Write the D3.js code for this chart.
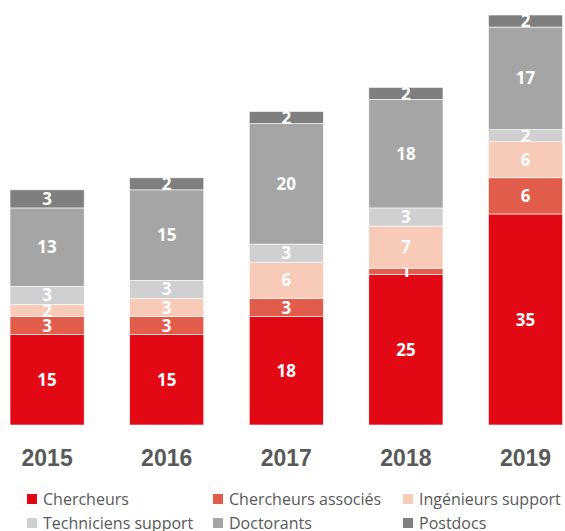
<!DOCTYPE html>
<html>
<head>
<meta charset="utf-8">
<script src="https://cdn.jsdelivr.net/npm/d3@7.9.0/dist/d3.min.js"></script>
<style>
  body { margin: 0; background: #fff; }
  svg { display: block; font-family: "Open Sans", sans-serif; }
</style>
</head>
<body>
<svg id="chart" width="565" height="531"></svg>
<script>
const years = ["2015", "2016", "2017", "2018", "2019"];
const seriesNames = ["Chercheurs", "Chercheurs associés", "Ingénieurs support", "Techniciens support", "Doctorants", "Postdocs"];
const chercheurs = [15, 15, 18, 25, 35];
const associes = [3, 3, 3, 1, 6];
const ingenieurs = [2, 3, 6, 7, 6];
const techniciens = [3, 3, 3, 3, 2];
const doctorants = [13, 15, 20, 18, 17];
const postdocs = [3, 2, 2, 2, 2];
const colors = ["#e20814", "#e15c4a", "#f8cab8", "#d0d0d2", "#a5a5a5", "#7f7f7f"];

let svg = d3.select("#chart");
let allSeries = [chercheurs, associes, ingenieurs, techniciens, doctorants, postdocs];

// build rows for d3.stack
let rows = years.map((y, i) => {
    let row = { year: y };
    seriesNames.forEach((s, j) => { row[s] = allSeries[j][i]; });
    return row;
});
let stacked = d3.stack().keys(seriesNames)(rows);

let xScale = d3.scaleBand().domain(years).range([-12.7, 585.3]).paddingInner(0.38).paddingOuter(0.19);
let yScale = d3.scaleLinear().domain([0, 68]).range([425, 15]);

let g = svg.append("g");

stacked.forEach((layer, j) => {
    let lg = g.append("g").attr("fill", colors[j]);
    lg.selectAll("rect")
      .data(layer)
      .enter().append("rect")
        .attr("x", d => xScale(d.data.year))
        .attr("y", d => yScale(d[1]))
        .attr("width", xScale.bandwidth())
        .attr("height", d => yScale(d[0]) - yScale(d[1]))
        .attr("stroke", "#fff")
        .attr("stroke-width", 0.6);

    // value labels
    g.selectAll(".lbl" + j)
      .data(layer)
      .enter().append("text")
        .attr("class", "lbl" + j)
        .attr("x", d => xScale(d.data.year) + xScale.bandwidth() / 2)
        .attr("y", d => (yScale(d[0]) + yScale(d[1])) / 2)
        .attr("dy", "0.36em")
        .attr("text-anchor", "middle")
        .attr("font-size", "17px")
        .attr("font-weight", 700)
        .attr("fill", "#fff")
        .text(d => d[1] - d[0]);
});

// year axis
let xAxis = g.append("g").attr("transform", "translate(0,425)")
    .call(d3.axisBottom(xScale).tickSize(0).tickPadding(25));
xAxis.select(".domain").remove();
xAxis.selectAll("text")
    .attr("font-family", "Liberation Sans, Arial, sans-serif")
    .attr("font-size", "23px")
    .attr("font-weight", 700)
    .attr("fill", "#595959");

// legend
let legendX = [27, 213, 403];
let legendY = [499, 523];
let legend = svg.append("g").attr("class", "legend");
seriesNames.forEach((s, i) => {
    let row = legend.append("g")
        .attr("transform", `translate(${legendX[i % 3]}, ${legendY[Math.floor(i / 3)]})`);
    row.append("rect")
        .attr("x", 0)
        .attr("y", -5)
        .attr("width", 10)
        .attr("height", 10)
        .attr("fill", colors[i]);
    row.append("text")
        .attr("x", 16)
        .attr("y", 0)
        .attr("dy", "0.35em")
        .attr("font-size", "16px")
        .attr("fill", "#595959")
        .text(s);
});
</script>
</body>
</html>
